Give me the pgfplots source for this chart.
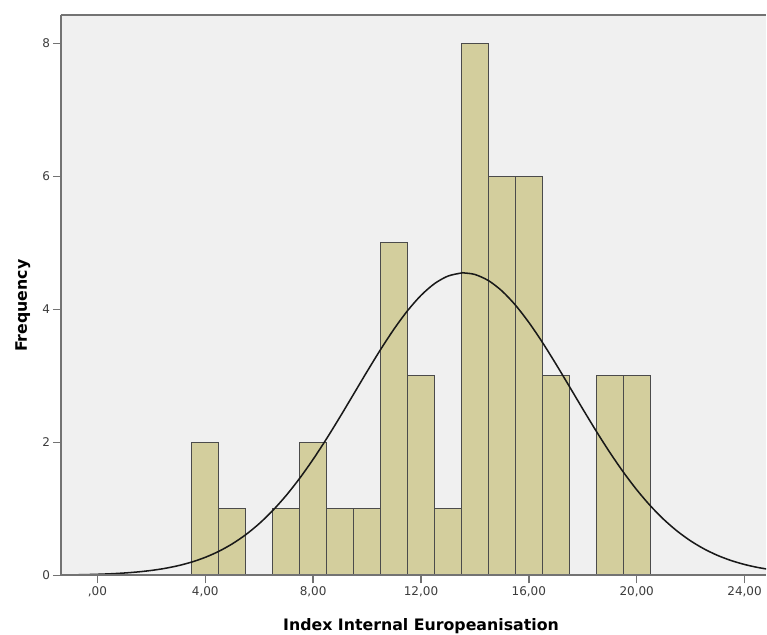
\documentclass[border=0pt]{standalone}
\usepackage{pgfplots}
\pgfplotsset{compat=1.18}
\usepackage{fontspec}
\setmainfont{DejaVu Sans}
\definecolor{barfill}{RGB}{211,206,157}
\definecolor{bgc}{RGB}{240,240,240}
\definecolor{framec}{RGB}{115,115,115}
\definecolor{barline}{RGB}{75,75,75}
\definecolor{ticktext}{RGB}{60,60,60}
\begin{document}
\begin{tikzpicture}
\begin{axis}[
  scale only axis, width=529.5pt, height=420.75pt,
  xmin=-1.352, xmax=24.80, ymin=0, ymax=8.425,
  axis x line=box, axis y line=left,
  axis line style={framec, line width=1.3pt, -},
  axis background/.style={fill=bgc},
  axis on top,
  tick align=outside, major tick length=6pt,
  tick style={framec, line width=1pt},
  xtick pos=bottom, ytick pos=left,
  xtick={0,4,8,12,16,20,24},
  xticklabels={{,00},{4,00},{8,00},{12,00},{16,00},{20,00},{24,00}},
  ytick={0,2,4,6,8},
  yticklabels={0,2,4,6,8},
  ticklabel style={font=\fontsize{9}{10}\selectfont, text=ticktext},
  xticklabel style={inner sep=2pt},
  yticklabel style={inner sep=2pt},
  xlabel={Index Internal Europeanisation},
  ylabel={Frequency},
  xlabel style={at={(axis description cs:0.5106,-0.0989)}, anchor=base, inner sep=0pt, font=\fontsize{11.85}{14}\selectfont\bfseries},
  ylabel style={at={(axis description cs:-0.0482,0.481)}, anchor=base, rotate=0, inner sep=0pt, font=\fontsize{11.85}{14}\selectfont\bfseries},
]
\addplot[ybar, bar width=1, bar shift=0pt, fill=barfill, draw=barline, line width=0.95pt] coordinates {
 (4,2) (5,1) (7,1) (8,2) (9,1) (10,1) (11,5) (12,3) (13,1)
 (14,8) (15,6) (16,6) (17,3) (19,3) (20,3)
};
\addplot[black!90, line width=1.15pt, smooth, no marks] coordinates {
 (-1.5,0.0042) (-1,0.0066) (-0.5,0.0103) (0,0.0157) (0.5,0.0237) (1,0.0352)
 (1.5,0.0514) (2,0.0738) (2.5,0.1045) (3,0.1458) (3.5,0.2002) (4,0.2708)
 (4.5,0.3607) (5,0.4731) (5.5,0.6110) (6,0.7772) (6.5,0.9734) (7,1.2006)
 (7.5,1.4584) (8,1.7445) (8.5,2.0549) (9,2.3840) (9.5,2.7233) (10,3.0636)
 (10.5,3.3939) (11,3.7028) (11.5,3.9780) (12,4.2088) (12.5,4.3851) (13,4.4992)
 (13.5,4.5459) (13.587,4.547) (14,4.5233) (14.5,4.4321) (15,4.2767) (15.5,4.0639)
 (16,3.8029) (16.5,3.5045) (17,3.1803) (17.5,2.8422) (18,2.5014) (18.5,2.1677)
 (19,1.8500) (19.5,1.5549) (20,1.2870) (20.5,1.0489) (21,0.8419) (21.5,0.6655)
 (22,0.5181) (22.5,0.3971) (23,0.2998) (23.5,0.2229) (24,0.1632) (24.5,0.1176)
 (25,0.0835)
};
\coordinate (tl) at (rel axis cs:0,1);
\end{axis}
\path ([shift={(-45.75pt,11.25pt)}]tl) -- (tl);
\end{tikzpicture}
\end{document}
